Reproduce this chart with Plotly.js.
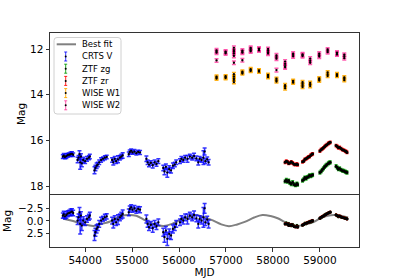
<!DOCTYPE html>
<html><head><meta charset="utf-8">
<script src="https://cdn.plot.ly/plotly-3.0.1.min.js"></script>
<style>html,body{margin:0;padding:0;background:#fff}#chart{width:399px;height:279px}</style>
</head><body><div id="chart"></div>
<script>
// ---------- DATA ----------
// CRTS V (top panel: magnitude, bottom panel: normalised)
const crtsMjd = [53525,53545,53570,53600,53630,53660,53690,53720,53745,
  53840,53860,53880,53895,53910,53930,53960,54000,54040,54080,54100,
  54200,54220,54245,54270,54300,54340,54380,54420,54460,
  54575,54600,54630,54660,54700,54740,54770,54800,
  54930,54950,54980,55010,55050,55090,55130,55170,
  55305,55330,55360,55400,55440,55480,55520,55560,
  55665,55690,55720,55750,55790,55830,55870,55910,55940,
  56020,56050,56090,56130,56180,56230,56280,56320,56370,
  56410,56440,56480,56520,56545,56560,56600,56630];
const crtsMag = [16.70,16.66,16.72,16.68,16.64,16.62,16.60,16.58,16.62,
  16.85,16.75,16.60,16.95,16.70,17.00,16.85,16.90,16.80,16.75,16.70,
  17.30,17.20,17.10,17.05,16.95,16.85,16.80,16.75,16.72,
  16.85,16.95,16.80,16.90,16.82,16.75,16.70,16.65,
  16.60,16.50,16.45,16.52,16.48,16.55,16.50,16.52,
  16.80,16.95,17.05,16.98,17.08,16.95,17.02,16.90,
  17.20,17.35,17.15,17.40,17.25,17.30,17.10,17.05,16.95,
  16.90,16.80,16.85,16.75,16.80,16.70,16.75,16.68,16.78,
  16.95,16.80,16.85,16.75,16.48,16.90,16.82,16.95];
const crtsErr = [0.08,0.09,0.08,0.10,0.09,0.08,0.10,0.09,0.08,
  0.12,0.10,0.15,0.30,0.12,0.15,0.12,0.10,0.10,0.09,0.10,
  0.15,0.12,0.12,0.10,0.10,0.10,0.08,0.09,0.08,
  0.10,0.12,0.10,0.10,0.15,0.10,0.10,0.12,
  0.10,0.09,0.08,0.08,0.09,0.08,0.08,0.09,
  0.12,0.10,0.10,0.10,0.12,0.10,0.10,0.10,
  0.12,0.15,0.12,0.20,0.15,0.12,0.12,0.10,0.10,
  0.10,0.10,0.10,0.10,0.15,0.10,0.10,0.12,0.10,
  0.12,0.10,0.10,0.30,0.15,0.10,0.10,0.12];
const crtsNorm = [-1.07,-1.33,-0.93,-1.20,-1.47,-1.60,-1.73,-1.87,-1.60,
  -0.07,-0.73,-1.73,0.60,-1.07,0.93,-0.07,0.27,-0.40,-0.73,-1.07,
  2.93,2.27,1.60,1.27,0.60,-0.07,-0.40,-0.73,-0.93,
  -0.07,0.60,-0.40,0.27,-0.27,-0.73,-1.07,-1.40,
  -1.73,-2.40,-2.73,-2.27,-2.53,-2.07,-2.40,-2.27,
  -0.40,0.60,1.27,0.80,1.47,0.60,1.07,0.27,
  2.27,3.27,1.93,3.60,2.60,2.93,1.60,1.27,0.60,
  0.27,-0.40,-0.07,-0.73,-0.40,-1.07,-0.73,-1.20,-0.53,
  0.60,-0.40,-0.07,-0.73,-2.53,0.27,-0.27,0.60];
const crtsNormErr = [0.53,0.60,0.53,0.67,0.60,0.53,0.67,0.60,0.53,
  0.80,0.67,1.00,2.00,0.80,1.00,0.80,0.67,0.67,0.60,0.67,
  1.00,0.80,0.80,0.67,0.67,0.67,0.53,0.60,0.53,
  0.67,0.80,0.67,0.67,1.00,0.67,0.67,0.80,
  0.67,0.60,0.53,0.53,0.60,0.53,0.53,0.60,
  0.80,0.67,0.67,0.67,0.80,0.67,0.67,0.67,
  0.80,1.00,0.80,1.33,1.00,0.80,0.80,0.67,0.67,
  0.67,0.67,0.67,0.67,1.00,0.67,0.67,0.80,0.67,
  0.80,0.67,0.67,2.00,1.00,0.67,0.67,0.80];

// ZTF (zg and zr share epochs)
const ztfMjd = [58260,58285,58310,58335,58360,58390,58420,58450,58480,58510,58525,
  58630,58655,58680,58705,58730,58755,58780,58805,58830,58845,
  59000,59025,59050,59075,59100,59125,59150,59180,59200,59220,
  59345,59370,59395,59420,59450,59480,59510,59540,59560,59578];
const zrMag = [16.95,16.90,16.93,17.00,16.98,16.93,16.98,17.04,17.05,17.02,17.06,
  16.93,16.90,16.82,16.80,16.76,16.72,16.70,16.64,16.60,16.58,
  16.46,16.40,16.36,16.32,16.27,16.22,16.18,16.13,16.10,16.08,
  16.22,16.26,16.32,16.30,16.35,16.40,16.42,16.46,16.48,16.52];
const zgMag = [17.78,17.72,17.80,17.75,17.85,17.90,17.82,17.92,17.95,17.88,17.93,
  17.75,17.70,17.62,17.66,17.60,17.58,17.52,17.55,17.52,17.50,
  17.40,17.35,17.28,17.22,17.15,17.10,17.05,17.00,16.97,16.95,
  17.12,17.18,17.25,17.22,17.28,17.32,17.33,17.36,17.38,17.40];
const zrNorm = [0.60,0.50,0.60,0.90,0.85,0.70,0.90,1.10,1.20,1.10,1.25,
  0.80,0.70,0.50,0.45,0.35,0.25,0.20,0.05,-0.05,-0.10,
  -0.60,-0.75,-0.90,-1.00,-1.15,-1.30,-1.45,-1.60,-1.70,-1.80,
  -1.20,-1.10,-0.95,-1.00,-0.85,-0.70,-0.65,-0.55,-0.50,-0.40];
const zgNorm = [0.55,0.40,0.65,0.50,0.80,0.95,0.70,1.00,1.10,0.90,1.05,
  0.85,0.70,0.45,0.55,0.35,0.30,0.10,0.20,0.10,0.00,
  -0.50,-0.65,-0.85,-1.00,-1.20,-1.35,-1.50,-1.60,-1.70,-1.75,
  -1.25,-1.05,-0.85,-0.95,-0.80,-0.70,-0.65,-0.55,-0.50,-0.45];
const zrErr = 0.05, zgErr = 0.06, ztfNormErr = 0.2;

// WISE
const w2Mjd = [56799,56799,56799,56799, 56992,56992,56992, 57169,57169,57169,57169,57169,57169,
  57349,57349,57349,57349, 57526,57526,57526,57526, 57703,57703,57703, 57896,57896,57896,57896,
  58075,58075,58075,58075, 58259,58259,58259,58259, 58430,58430,58430, 58631,58631,58631,
  58793,58793,58793, 58986,58986,58986, 59165,59165,59165, 59364,59364,59364, 59520,59520,59520];
const w2Mag = [12.06,12.11,12.16,12.50, 12.11,12.15,12.19, 11.95,12.05,12.12,12.20,12.30,12.60,
  12.07,12.12,12.16,12.49, 11.95,12.00,12.06,12.10, 11.98,12.02,12.06, 12.00,12.08,12.15,12.20,
  12.28,12.35,12.42,12.92, 12.55,12.65,12.75,12.80, 12.20,12.26,12.32, 12.23,12.27,12.31,
  12.42,12.52,12.60, 12.20,12.27,12.33, 12.02,12.08,12.14, 12.16,12.20,12.24, 12.25,12.32,12.40];
const w1Mjd = [56799,56799,56799, 56992,56992,56992, 57169,57169,57169,57169,57169,
  57349,57349,57349, 57526,57526,57526, 57703,57703,57703, 57896,57896,57896,
  58075,58075,58075, 58259,58259,58259, 58430,58430,58430, 58631,58631,58631,58631,
  58793,58793,58793, 58986,58986,58986, 59165,59165,59165, 59364,59364,59364, 59520,59520,59520];
const w1Mag = [13.21,13.25,13.29, 13.19,13.23,13.27, 13.10,13.20,13.28,13.35,13.45,
  12.99,13.03,13.07, 12.88,12.92,12.96, 12.93,12.96,12.99, 13.13,13.18,13.23,
  13.30,13.36,13.42, 13.58,13.65,13.72, 13.39,13.43,13.47, 13.45,13.52,13.58,13.66,
  13.48,13.55,13.62, 13.28,13.33,13.38, 13.02,13.10,13.18, 13.10,13.14,13.18, 13.24,13.30,13.36];
const w1Err = 0.07, w2Err = 0.08;

// Best-fit curve
const fitMjd = [53536,53700,53950,54177,54350,54534,54720,54891,55090,55280,55480,55673,55850,56020,56200,56380,
  56550,56720,56900,57062,57240,57400,57600,57776,57950,58100,58250,58451,58660,58850,59000,59165,59300,59450,59600];
const fitVal = [-0.45,-0.10,0.60,1.00,0.60,0.10,-0.85,-1.20,-1.05,-0.10,0.70,1.00,0.60,-0.15,-0.85,-1.15,
  -0.70,-0.10,0.70,1.05,0.70,0.20,-0.70,-1.20,-1.00,-0.55,0.20,1.10,0.75,0.30,-0.50,-1.05,-1.20,-1.05,-0.70];

const legendNames = ['Best fit','CRTS V','ZTF zg','ZTF zr','WISE W1','WISE W2'];
const xTicks = [54000,55000,56000,57000,58000,59000];
const yTicksTop = [12,14,16,18];
const yTicksBottom = [-2.5,0,2.5];

// ---------- STYLE ----------
const W = 399, H = 279;
const px = x => x / W, py = y => 1 - y / H;
const FONT = 'DejaVu Sans, sans-serif';
const cBlue = 'rgba(0,0,255,0.8)', cGreen = 'rgba(0,150,0,0.85)', cRed = 'rgba(255,0,0,0.85)',
      cOrange = 'rgba(255,170,0,0.9)', cPink = 'rgba(255,40,150,0.75)', cFit = 'rgb(128,128,128)';
const legendColors = [cFit, cBlue, cGreen, cRed, cOrange, cPink];

function errTrace(x, y, err, color, xa, ya, size, cap, thick) {
  const e = Array.isArray(err) ? {type:'data', array: err} : {type:'constant', value: err};
  return {x, y, xaxis: xa, yaxis: ya, type: 'scatter', mode: 'markers', showlegend: false,
    marker: {color: '#000', size: size, line: {width: 0}},
    error_y: Object.assign(e, {visible: true, color: color, thickness: thick || 1, width: cap}), hoverinfo: 'skip'};
}

const traces = [
  errTrace(crtsMjd, crtsMag, crtsErr, cBlue, 'x', 'y', 2.3, 2, 1.5),
  errTrace(ztfMjd, zgMag, zgErr, cGreen, 'x', 'y', 3, 1.5, 1.5),
  errTrace(ztfMjd, zrMag, zrErr, cRed, 'x', 'y', 3, 1.5, 1.5),
  errTrace(w1Mjd, w1Mag, w1Err, cOrange, 'x', 'y', 2.3, 2, 1.5),
  errTrace(w2Mjd, w2Mag, w2Err, cPink, 'x', 'y', 2.3, 2, 1.5),
  {x: fitMjd, y: fitVal, xaxis: 'x2', yaxis: 'y2', type: 'scatter', mode: 'lines', showlegend: false,
   line: {color: cFit, width: 2, shape: 'spline', smoothing: 1.0}, hoverinfo: 'skip'},
  errTrace(crtsMjd, crtsNorm, crtsNormErr, cBlue, 'x2', 'y2', 2.3, 2, 1.5),
  errTrace(ztfMjd, zgNorm, ztfNormErr, cGreen, 'x2', 'y2', 3, 1, 1),
  errTrace(ztfMjd, zrNorm, ztfNormErr, cRed, 'x2', 'y2', 3, 1, 1)
];

// custom matplotlib-like legend
const shapes = [];
const annotations = [];
const lx0 = 54, lx1 = 121, ly0 = 37.5, ly1 = 114, r = 3;
const rx = r / W, ry = r / H;
const X0 = px(lx0), X1 = px(lx1), Y0 = py(ly0), Y1 = py(ly1);
shapes.push({type: 'path', xref: 'paper', yref: 'paper', layer: 'above',
  path: `M${X0+rx},${Y0} L${X1-rx},${Y0} Q${X1},${Y0} ${X1},${Y0-ry} L${X1},${Y1+ry} Q${X1},${Y1} ${X1-rx},${Y1} L${X0+rx},${Y1} Q${X0},${Y1} ${X0},${Y1+ry} L${X0},${Y0-ry} Q${X0},${Y0} ${X0+rx},${Y0} Z`,
  fillcolor: 'rgba(255,255,255,0.8)', line: {color: '#d0d0d0', width: 1}});
legendNames.forEach((name, i) => {
  const yc = 44.3 + i * 12.2;
  if (i === 0) {
    shapes.push({type: 'line', xref: 'paper', yref: 'paper', layer: 'above',
      x0: px(56.7), x1: px(76), y0: py(yc), y1: py(yc), line: {color: cFit, width: 2}});
  } else {
    const c = legendColors[i], xm = 65.7;
    shapes.push({type: 'line', xref: 'paper', yref: 'paper', layer: 'above',
      x0: px(xm), x1: px(xm), y0: py(yc - 4.5), y1: py(yc + 4.5), line: {color: c, width: 1}});
    shapes.push({type: 'line', xref: 'paper', yref: 'paper', layer: 'above',
      x0: px(xm - 1.5), x1: px(xm + 1.5), y0: py(yc - 4.5), y1: py(yc - 4.5), line: {color: c, width: 1}});
    shapes.push({type: 'line', xref: 'paper', yref: 'paper', layer: 'above',
      x0: px(xm - 1.5), x1: px(xm + 1.5), y0: py(yc + 4.5), y1: py(yc + 4.5), line: {color: c, width: 1}});
    shapes.push({type: 'circle', xref: 'paper', yref: 'paper', layer: 'above',
      x0: px(xm - 1), x1: px(xm + 1), y0: py(yc - 1), y1: py(yc + 1), fillcolor: '#000', line: {width: 0}});
  }
  annotations.push({xref: 'paper', yref: 'paper', x: px(79.5), y: py(yc), xanchor: 'left', yanchor: 'middle',
    text: name, showarrow: false, font: {family: FONT, size: 8.5, color: '#000'}});
});

const axisCommon = {showline: true, mirror: true, linecolor: '#333', linewidth: 1, zeroline: false,
  showgrid: false, ticks: 'outside', ticklen: 3.5, tickwidth: 1, tickcolor: '#333',
  tickfont: {family: FONT, size: 10.5, color: '#000'}};

const layout = {
  width: W, height: H, margin: {l: 0, r: 0, t: 0, b: 0},
  paper_bgcolor: '#fff', plot_bgcolor: '#fff', showlegend: false,
  font: {family: FONT, color: '#000'},
  // top panel x axis: only draws the top border (labels shared with lower panel)
  xaxis: Object.assign({}, axisCommon, {domain: [px(50), px(359)], range: [53252, 59833], anchor: 'y',
    side: 'top', mirror: false, tickvals: xTicks, showticklabels: false, ticks: ''}),
  xaxis2: Object.assign({}, axisCommon, {domain: [px(50), px(359)], range: [53252, 59833], anchor: 'y2',
    matches: 'x', tickvals: xTicks, tickformat: 'd',
    title: {text: 'MJD', font: {family: FONT, size: 10.5}, standoff: 2}}),
  yaxis: Object.assign({}, axisCommon, {domain: [py(195), py(33)], range: [18.38, 11.30], anchor: 'x',
    tickvals: yTicksTop, title: {text: 'Mag', font: {family: FONT, size: 10.5}, standoff: 2}}),
  yaxis2: Object.assign({}, axisCommon, {domain: [py(247), py(195)], range: [5.24, -5.22], anchor: 'x2',
    tickvals: yTicksBottom, tickformat: '.1f', title: {text: 'Mag', font: {family: FONT, size: 10.5}, standoff: 4}}),
  shapes: shapes, annotations: annotations
};

Plotly.newPlot('chart', traces, layout, {staticPlot: true, displayModeBar: false});
</script></body></html>
